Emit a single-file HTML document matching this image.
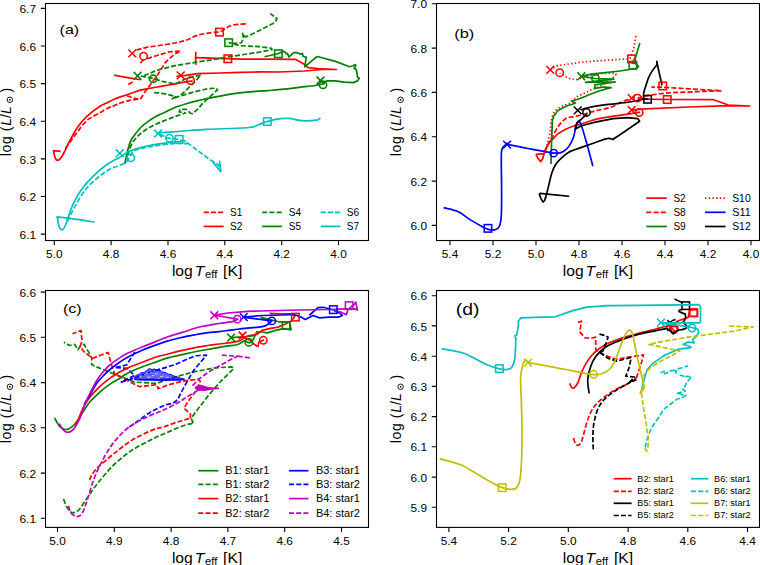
<!DOCTYPE html>
<html><head><meta charset="utf-8"><title>HR diagrams</title>
<style>html,body{margin:0;padding:0;background:#fff;width:760px;height:565px;overflow:hidden}svg{display:block}text{fill:#000}</style>
</head><body>
<svg width="760" height="565" viewBox="0 0 760 565" font-family='"Liberation Sans", sans-serif'>
<rect x="45.5" y="3.5" width="323" height="237" fill="none" stroke="#000" stroke-width="1.1"/>
<path d="M54.3,240.5 v4.7 M111.1,240.5 v4.7 M168,240.5 v4.7 M224.8,240.5 v4.7 M281.7,240.5 v4.7 M338.5,240.5 v4.7 M45.5,234.1 h-4.7 M45.5,196.5 h-4.7 M45.5,158.9 h-4.7 M45.5,121.2 h-4.7 M45.5,83.6 h-4.7 M45.5,46 h-4.7 M45.5,8.4 h-4.7 " stroke="#000" stroke-width="1.1"/>
<text x="54.3" y="257.6" font-size="10.9" text-anchor="middle" textLength="16.5" lengthAdjust="spacingAndGlyphs">5.0</text>
<text x="111.1" y="257.6" font-size="10.9" text-anchor="middle" textLength="16.5" lengthAdjust="spacingAndGlyphs">4.8</text>
<text x="168" y="257.6" font-size="10.9" text-anchor="middle" textLength="16.5" lengthAdjust="spacingAndGlyphs">4.6</text>
<text x="224.8" y="257.6" font-size="10.9" text-anchor="middle" textLength="16.5" lengthAdjust="spacingAndGlyphs">4.4</text>
<text x="281.7" y="257.6" font-size="10.9" text-anchor="middle" textLength="16.5" lengthAdjust="spacingAndGlyphs">4.2</text>
<text x="338.5" y="257.6" font-size="10.9" text-anchor="middle" textLength="16.5" lengthAdjust="spacingAndGlyphs">4.0</text>
<text x="36" y="238.7" font-size="10.9" text-anchor="end" textLength="16.5" lengthAdjust="spacingAndGlyphs">6.1</text>
<text x="36" y="201.1" font-size="10.9" text-anchor="end" textLength="16.5" lengthAdjust="spacingAndGlyphs">6.2</text>
<text x="36" y="163.5" font-size="10.9" text-anchor="end" textLength="16.5" lengthAdjust="spacingAndGlyphs">6.3</text>
<text x="36" y="125.8" font-size="10.9" text-anchor="end" textLength="16.5" lengthAdjust="spacingAndGlyphs">6.4</text>
<text x="36" y="88.2" font-size="10.9" text-anchor="end" textLength="16.5" lengthAdjust="spacingAndGlyphs">6.5</text>
<text x="36" y="50.6" font-size="10.9" text-anchor="end" textLength="16.5" lengthAdjust="spacingAndGlyphs">6.6</text>
<text x="36" y="13" font-size="10.9" text-anchor="end" textLength="16.5" lengthAdjust="spacingAndGlyphs">6.7</text>
<rect x="436.5" y="3.5" width="323" height="237" fill="none" stroke="#000" stroke-width="1.1"/>
<path d="M450,240.5 v4.7 M493,240.5 v4.7 M536,240.5 v4.7 M579,240.5 v4.7 M622,240.5 v4.7 M665,240.5 v4.7 M708,240.5 v4.7 M751,240.5 v4.7 M436.5,225.4 h-4.7 M436.5,181.1 h-4.7 M436.5,136.7 h-4.7 M436.5,92.4 h-4.7 M436.5,48.1 h-4.7 M436.5,3.8 h-4.7 " stroke="#000" stroke-width="1.1"/>
<text x="450" y="257.6" font-size="10.9" text-anchor="middle" textLength="16.5" lengthAdjust="spacingAndGlyphs">5.4</text>
<text x="493" y="257.6" font-size="10.9" text-anchor="middle" textLength="16.5" lengthAdjust="spacingAndGlyphs">5.2</text>
<text x="536" y="257.6" font-size="10.9" text-anchor="middle" textLength="16.5" lengthAdjust="spacingAndGlyphs">5.0</text>
<text x="579" y="257.6" font-size="10.9" text-anchor="middle" textLength="16.5" lengthAdjust="spacingAndGlyphs">4.8</text>
<text x="622" y="257.6" font-size="10.9" text-anchor="middle" textLength="16.5" lengthAdjust="spacingAndGlyphs">4.6</text>
<text x="665" y="257.6" font-size="10.9" text-anchor="middle" textLength="16.5" lengthAdjust="spacingAndGlyphs">4.4</text>
<text x="708" y="257.6" font-size="10.9" text-anchor="middle" textLength="16.5" lengthAdjust="spacingAndGlyphs">4.2</text>
<text x="751" y="257.6" font-size="10.9" text-anchor="middle" textLength="16.5" lengthAdjust="spacingAndGlyphs">4.0</text>
<text x="427" y="230" font-size="10.9" text-anchor="end" textLength="16.5" lengthAdjust="spacingAndGlyphs">6.0</text>
<text x="427" y="185.7" font-size="10.9" text-anchor="end" textLength="16.5" lengthAdjust="spacingAndGlyphs">6.2</text>
<text x="427" y="141.3" font-size="10.9" text-anchor="end" textLength="16.5" lengthAdjust="spacingAndGlyphs">6.4</text>
<text x="427" y="97" font-size="10.9" text-anchor="end" textLength="16.5" lengthAdjust="spacingAndGlyphs">6.6</text>
<text x="427" y="52.7" font-size="10.9" text-anchor="end" textLength="16.5" lengthAdjust="spacingAndGlyphs">6.8</text>
<text x="427" y="8.4" font-size="10.9" text-anchor="end" textLength="16.5" lengthAdjust="spacingAndGlyphs">7.0</text>
<rect x="45.5" y="290.5" width="323" height="236.9" fill="none" stroke="#000" stroke-width="1.1"/>
<path d="M57.5,527.4 v4.7 M114.3,527.4 v4.7 M171.1,527.4 v4.7 M227.9,527.4 v4.7 M284.7,527.4 v4.7 M341.5,527.4 v4.7 M45.5,518.3 h-4.7 M45.5,473.1 h-4.7 M45.5,427.8 h-4.7 M45.5,382.6 h-4.7 M45.5,337.3 h-4.7 M45.5,292.1 h-4.7 " stroke="#000" stroke-width="1.1"/>
<text x="57.5" y="544.5" font-size="10.9" text-anchor="middle" textLength="16.5" lengthAdjust="spacingAndGlyphs">5.0</text>
<text x="114.3" y="544.5" font-size="10.9" text-anchor="middle" textLength="16.5" lengthAdjust="spacingAndGlyphs">4.9</text>
<text x="171.1" y="544.5" font-size="10.9" text-anchor="middle" textLength="16.5" lengthAdjust="spacingAndGlyphs">4.8</text>
<text x="227.9" y="544.5" font-size="10.9" text-anchor="middle" textLength="16.5" lengthAdjust="spacingAndGlyphs">4.7</text>
<text x="284.7" y="544.5" font-size="10.9" text-anchor="middle" textLength="16.5" lengthAdjust="spacingAndGlyphs">4.6</text>
<text x="341.5" y="544.5" font-size="10.9" text-anchor="middle" textLength="16.5" lengthAdjust="spacingAndGlyphs">4.5</text>
<text x="36" y="522.9" font-size="10.9" text-anchor="end" textLength="16.5" lengthAdjust="spacingAndGlyphs">6.1</text>
<text x="36" y="477.7" font-size="10.9" text-anchor="end" textLength="16.5" lengthAdjust="spacingAndGlyphs">6.2</text>
<text x="36" y="432.4" font-size="10.9" text-anchor="end" textLength="16.5" lengthAdjust="spacingAndGlyphs">6.3</text>
<text x="36" y="387.2" font-size="10.9" text-anchor="end" textLength="16.5" lengthAdjust="spacingAndGlyphs">6.4</text>
<text x="36" y="341.9" font-size="10.9" text-anchor="end" textLength="16.5" lengthAdjust="spacingAndGlyphs">6.5</text>
<text x="36" y="296.7" font-size="10.9" text-anchor="end" textLength="16.5" lengthAdjust="spacingAndGlyphs">6.6</text>
<rect x="436.5" y="290.5" width="323" height="236.9" fill="none" stroke="#000" stroke-width="1.1"/>
<path d="M448.9,527.4 v4.7 M508.6,527.4 v4.7 M568.3,527.4 v4.7 M628.1,527.4 v4.7 M687.8,527.4 v4.7 M747.5,527.4 v4.7 M436.5,507.3 h-4.7 M436.5,477.1 h-4.7 M436.5,446.8 h-4.7 M436.5,416.6 h-4.7 M436.5,386.4 h-4.7 M436.5,356.2 h-4.7 M436.5,325.9 h-4.7 M436.5,295.7 h-4.7 " stroke="#000" stroke-width="1.1"/>
<text x="448.9" y="544.5" font-size="10.9" text-anchor="middle" textLength="16.5" lengthAdjust="spacingAndGlyphs">5.4</text>
<text x="508.6" y="544.5" font-size="10.9" text-anchor="middle" textLength="16.5" lengthAdjust="spacingAndGlyphs">5.2</text>
<text x="568.3" y="544.5" font-size="10.9" text-anchor="middle" textLength="16.5" lengthAdjust="spacingAndGlyphs">5.0</text>
<text x="628.1" y="544.5" font-size="10.9" text-anchor="middle" textLength="16.5" lengthAdjust="spacingAndGlyphs">4.8</text>
<text x="687.8" y="544.5" font-size="10.9" text-anchor="middle" textLength="16.5" lengthAdjust="spacingAndGlyphs">4.6</text>
<text x="747.5" y="544.5" font-size="10.9" text-anchor="middle" textLength="16.5" lengthAdjust="spacingAndGlyphs">4.4</text>
<text x="427" y="511.9" font-size="10.9" text-anchor="end" textLength="16.5" lengthAdjust="spacingAndGlyphs">5.9</text>
<text x="427" y="481.7" font-size="10.9" text-anchor="end" textLength="16.5" lengthAdjust="spacingAndGlyphs">6.0</text>
<text x="427" y="451.4" font-size="10.9" text-anchor="end" textLength="16.5" lengthAdjust="spacingAndGlyphs">6.1</text>
<text x="427" y="421.2" font-size="10.9" text-anchor="end" textLength="16.5" lengthAdjust="spacingAndGlyphs">6.2</text>
<text x="427" y="391" font-size="10.9" text-anchor="end" textLength="16.5" lengthAdjust="spacingAndGlyphs">6.3</text>
<text x="427" y="360.8" font-size="10.9" text-anchor="end" textLength="16.5" lengthAdjust="spacingAndGlyphs">6.4</text>
<text x="427" y="330.5" font-size="10.9" text-anchor="end" textLength="16.5" lengthAdjust="spacingAndGlyphs">6.5</text>
<text x="427" y="300.3" font-size="10.9" text-anchor="end" textLength="16.5" lengthAdjust="spacingAndGlyphs">6.6</text>
<text x="171.9" y="275.7" font-size="14" textLength="70.4" lengthAdjust="spacingAndGlyphs">log <tspan font-style="italic" dx="-2.2">T</tspan><tspan font-size="10" dy="2.6" dx="0.7">eff</tspan><tspan dy="-2.6" dx="1.3"> [K]</tspan></text>
<text x="562.7" y="275.7" font-size="14" textLength="70.4" lengthAdjust="spacingAndGlyphs">log <tspan font-style="italic" dx="-2.2">T</tspan><tspan font-size="10" dy="2.6" dx="0.7">eff</tspan><tspan dy="-2.6" dx="1.3"> [K]</tspan></text>
<text x="171.9" y="562.7" font-size="14" textLength="70.4" lengthAdjust="spacingAndGlyphs">log <tspan font-style="italic" dx="-2.2">T</tspan><tspan font-size="10" dy="2.6" dx="0.7">eff</tspan><tspan dy="-2.6" dx="1.3"> [K]</tspan></text>
<text x="562.7" y="562.7" font-size="14" textLength="70.4" lengthAdjust="spacingAndGlyphs">log <tspan font-style="italic" dx="-2.2">T</tspan><tspan font-size="10" dy="2.6" dx="0.7">eff</tspan><tspan dy="-2.6" dx="1.3"> [K]</tspan></text>
<g transform="translate(10.5,0) rotate(-90)"><text x="-156.2" y="0" font-size="14">l<tspan dx="0.5">o</tspan><tspan dx="0.8">g</tspan><tspan dx="1.1"> (</tspan><tspan dx="0.8" font-style="italic">L</tspan>/<tspan font-style="italic">L</tspan></text><text x="-92.6" y="0" font-size="14">)</text></g><circle cx="9.9" cy="99.8" r="2.75" fill="none" stroke="#000" stroke-width="0.9"/><circle cx="9.9" cy="99.8" r="0.85" fill="#000"/>
<g transform="translate(401.2,0) rotate(-90)"><text x="-156.2" y="0" font-size="14">l<tspan dx="0.5">o</tspan><tspan dx="0.8">g</tspan><tspan dx="1.1"> (</tspan><tspan dx="0.8" font-style="italic">L</tspan>/<tspan font-style="italic">L</tspan></text><text x="-92.6" y="0" font-size="14">)</text></g><circle cx="400.6" cy="99.8" r="2.75" fill="none" stroke="#000" stroke-width="0.9"/><circle cx="400.6" cy="99.8" r="0.85" fill="#000"/>
<g transform="translate(10.5,0) rotate(-90)"><text x="-443.2" y="0" font-size="14">l<tspan dx="0.5">o</tspan><tspan dx="0.8">g</tspan><tspan dx="1.1"> (</tspan><tspan dx="0.8" font-style="italic">L</tspan>/<tspan font-style="italic">L</tspan></text><text x="-379.6" y="0" font-size="14">)</text></g><circle cx="9.9" cy="386.8" r="2.75" fill="none" stroke="#000" stroke-width="0.9"/><circle cx="9.9" cy="386.8" r="0.85" fill="#000"/>
<g transform="translate(401.2,0) rotate(-90)"><text x="-443.2" y="0" font-size="14">l<tspan dx="0.5">o</tspan><tspan dx="0.8">g</tspan><tspan dx="1.1"> (</tspan><tspan dx="0.8" font-style="italic">L</tspan>/<tspan font-style="italic">L</tspan></text><text x="-379.6" y="0" font-size="14">)</text></g><circle cx="400.6" cy="386.8" r="2.75" fill="none" stroke="#000" stroke-width="0.9"/><circle cx="400.6" cy="386.8" r="0.85" fill="#000"/>
<text x="59.6" y="34" font-size="13.5" textLength="19.6" lengthAdjust="spacingAndGlyphs">(a)</text>
<path d="M59.9,151.4 C59,151.3 55.3,150.5 54.3,150.6 C53.3,150.7 53.7,151 53.7,151.9 C53.8,152.8 54.2,154.6 54.6,155.9 C55,157.2 55.6,158.9 56.2,159.6 C56.8,160.3 57.4,160.4 58.1,160.2 C58.8,160 59.7,159.3 60.5,158.4 C61.3,157.5 62.2,156.1 63,154.7 C63.8,153.2 64.6,151.7 65.5,149.7 C66.4,147.7 67.6,145 68.6,142.9 C69.6,140.8 70.2,140 71.7,137.3 C73.2,134.6 75.2,130.4 77.7,126.9 C80.2,123.4 83.2,119.7 86.9,116.3 C90.6,112.9 96.6,108.5 100,106.3 C103.4,104 104.7,104 107.1,102.8 C109.5,101.6 111.8,100.2 114.2,99.2 C116.6,98.2 118.8,97.4 121.2,96.6 C123.6,95.8 125.9,95.1 128.3,94.3 C130.7,93.5 133,92.6 135.4,91.8 C137.8,91 140.4,90.2 142.5,89.7 C144.6,89.2 144.7,89.2 148,88.6 C151.3,88 157.5,86.9 162.2,86.1 C166.9,85.3 172.3,84.3 176.3,83.6 C180.3,82.9 183.6,82.2 186.2,81.8 C188.8,81.4 190.9,81.2 191.9,81.1" stroke="#ff0000" stroke-width="1.7" fill="none" stroke-linejoin="round" stroke-linecap="square"/>
<path d="M177.2,76.3 L186,75.4 L197.3,73.6 L220,73 L240,72.4 L260,71.9 L278.9,72 L304.2,71 L321.7,69.5 L336.3,69.5 L317.8,68.5 L308.1,67.7 L304.2,64.2 L295.4,59.3 L260,59.2 L240,59.1 L227.7,58.6 L195.7,57.6" stroke="#ff0000" stroke-width="1.7" fill="none" stroke-linejoin="round" stroke-linecap="square"/>
<path d="M195.7,52.6 L195.7,63.9" stroke="#ff0000" stroke-width="1.7" fill="none" stroke-linejoin="round" stroke-linecap="square"/>
<path d="M115,75.3 L129,77.8 L140,79.6" stroke="#ff0000" stroke-width="1.7" fill="none" stroke-linejoin="round" stroke-linecap="square"/>
<path d="M65.5,148.5 C66,147.8 67.6,145.5 68.6,144.1 C69.6,142.7 70.7,141.2 71.7,139.8 C72.7,138.4 73.7,137 74.8,135.4 C75.9,133.8 77.1,132.3 78.5,130.5 C79.9,128.7 81.1,126.5 83,124.5 C84.9,122.5 86.9,120.4 89.7,118.4 C92.5,116.4 97.1,114.4 100,112.7 C102.9,111 104.7,109.7 107.1,108.5 C109.5,107.3 111.8,106.5 114.2,105.6 C116.6,104.6 118.6,103.7 121.2,102.8 C123.8,101.9 127,100.9 129.7,100.3 C132.4,99.7 135.7,99.4 137.5,99.2 C139.3,99 139.9,99.2 140.4,99.2" stroke="#ff0000" stroke-width="1.7" fill="none" stroke-linejoin="round" stroke-linecap="butt" stroke-dasharray="5.1 2.1"/>
<path d="M140.4,99.2 L143.9,93.6 L146.7,89.3 L150,85.1 L155.1,78.3 L160,71.2 L165.7,62 L175.2,53.7 L180.8,50.9 L169.7,51.8 L156.8,55.5 L145.8,59.2" stroke="#ff0000" stroke-width="1.7" fill="none" stroke-linejoin="round" stroke-linecap="butt" stroke-dasharray="5.1 2.1"/>
<path d="M136.6,50 C138.4,49.5 142.7,48.1 147.6,47.2 C152.5,46.3 159.8,45.6 166,44.5 C172.2,43.4 179.3,42.3 184.5,40.8 C189.7,39.3 192.7,36.7 197.3,35.3 C201.9,33.9 208.3,33.1 212,32.5 C215.7,31.9 217.2,32.5 219.4,31.9 C221.6,31.3 223.2,29.8 225,28.8 C226.8,27.8 228.1,26.5 230.5,25.7 C232.9,24.9 236.8,24.5 239.7,24.2 C242.6,23.9 246.6,23.9 248,23.8" stroke="#ff0000" stroke-width="1.7" fill="none" stroke-linejoin="round" stroke-linecap="butt" stroke-dasharray="5.1 2.1"/>
<path d="M143.6,59.5 L140.5,63" stroke="#ff0000" stroke-width="1.7" fill="none" stroke-linejoin="round" stroke-linecap="butt" stroke-dasharray="5.1 2.1"/>
<path d="M126.9,95.7 L131.9,97.5 L137.5,99.2" stroke="#ff0000" stroke-width="1.7" fill="none" stroke-linejoin="round" stroke-linecap="butt" stroke-dasharray="5.1 2.1"/>
<path d="M128.3,84.4 L132.6,81.9" stroke="#ff0000" stroke-width="1.7" fill="none" stroke-linejoin="round" stroke-linecap="butt" stroke-dasharray="5.1 2.1"/>
<path d="M127.7,155.3 C128,154.5 128.5,152.4 129.2,150.5 C129.9,148.6 130.6,146 132,143.6 C133.4,141.2 135.6,138.4 137.7,136.2 C139.8,134 142.4,132.2 144.8,130.5 C147.2,128.8 149.4,127.5 151.9,126.2 C154.4,124.9 156.6,123.8 160,122.4 C163.4,121 168.4,119 172.2,117.6 C175.9,116.2 180.8,114.6 182.5,114" stroke="#008000" stroke-width="1.7" fill="none" stroke-linejoin="round" stroke-linecap="butt" stroke-dasharray="5.1 2.1"/>
<path d="M182.5,114 L185.6,113 L179.2,111.9 L180,109.5 L186.3,109.4 L188,110.5 L189.9,113 L192.7,113.7 L197.7,109.1 L203.3,102.7 L207.6,98.8 L211.9,94.9 L217.5,89.8 L215.9,88.2 L208,88.6 L193.4,92.1 L179.2,96.3 L172.2,98.8 L175.7,96.7 L172.2,95.6 L165.1,93.9 L158,92.8 L153.7,92.5" stroke="#008000" stroke-width="1.7" fill="none" stroke-linejoin="round" stroke-linecap="butt" stroke-dasharray="5.1 2.1"/>
<path d="M180.8,95 L193.7,83.1 L201,74.9 L186.3,78.5 L175.2,84.1 L162.4,81.3 L153.1,78.5 L143,76.5 L137.5,75.8" stroke="#008000" stroke-width="1.7" fill="none" stroke-linejoin="round" stroke-linecap="butt" stroke-dasharray="5.1 2.1"/>
<path d="M143.9,75.8 L156.8,70.2 L175.2,65.6 L197.3,62 L215.8,59.2 L230.5,56.4 L240,55.1 L259.5,52.1 L272.1,49.6 L271.1,48.2 L259.5,46.7 L240,45.7 L232.3,43.5 L228.7,42.6" stroke="#008000" stroke-width="1.7" fill="none" stroke-linejoin="round" stroke-linecap="butt" stroke-dasharray="5.1 2.1"/>
<path d="M232.3,43.5 L241.5,42.6 L243.5,38 L242.7,33.3 L245.5,37 L249,35.5 L259.5,30.4 L275,22.4 L277,18.5 L270.2,13.6" stroke="#008000" stroke-width="1.7" fill="none" stroke-linejoin="round" stroke-linecap="butt" stroke-dasharray="5.1 2.1"/>
<path d="M125,163 C125.2,162 125.8,158.9 126.2,157 C126.6,155.1 126.9,153.6 127.4,151.6 C127.9,149.6 128.6,146.9 129.2,145 C129.8,143.1 130.4,141.6 131.2,140 C132,138.4 132.5,137.7 134.2,135.5 C135.9,133.3 138.8,129.4 141.2,127 C143.5,124.6 145.9,123 148.3,121.3 C150.7,119.6 152.6,118.2 155.4,116.7 C158.2,115.2 161.9,113.8 165.1,112.3 C168.2,110.8 170.8,109.1 174.3,107.7 C177.8,106.3 182.5,104.9 186.3,103.8 C190.1,102.7 193.4,101.8 197,100.9 C200.6,100 203.5,99.3 208,98.4 C212.5,97.5 218.5,96.2 223.8,95.3 C229.1,94.4 234.3,93.6 239.6,92.9 C244.9,92.2 250.7,91.7 255.4,91.3 C260.1,90.9 263.3,90.9 268,90.6 C272.7,90.2 278.5,89.8 283.8,89.2 C289.1,88.7 294.3,87.9 299.6,87.3 C304.9,86.7 312.4,86 315.4,85.5 C318.4,85 317.4,84.8 317.8,84.6" stroke="#008000" stroke-width="1.7" fill="none" stroke-linejoin="round" stroke-linecap="square"/>
<path d="M317.8,84.6 L321.5,84.3 L323.5,83.5 L326.6,80.9 L335.4,80.9 L344.3,82.2 L353.1,82.6 L357.6,80.9 L359.3,78.2 L357.6,77.3 L356.7,71.6 L355.8,68.9 L354,68.5 L355.8,65.8 L355.4,64.5 L353.1,65.8 L349.6,66.7 L335.4,61.4 L317.3,56.5 L315,58.2 L304.7,66.8 L305.5,62.1 L306.3,57.4 L303.1,56.2 L302.4,53.4 L300.8,54.2 L296.8,52.6 L293.7,52.6 L288.9,57 L287.4,53.4 L286.2,53.8 L285,51.8 L283,51.4 L278.5,53.5 L265.3,56.6" stroke="#008000" stroke-width="1.7" fill="none" stroke-linejoin="round" stroke-linecap="square"/>
<path d="M93.7,221.8 C88,221 65.5,217.8 59.5,217.2 C53.5,216.6 58.3,217.4 58,218 C57.7,218.6 57.6,219.6 57.8,221 C58,222.4 58.5,225.1 59,226.5 C59.5,227.9 60.3,229 61,229.4 C61.7,229.8 62.6,229.7 63.3,229 C64,228.3 64.6,227.1 65.3,225.5 C66,223.9 67.1,220.5 67.4,219.5" stroke="#00bfbf" stroke-width="1.7" fill="none" stroke-linejoin="round" stroke-linecap="square"/>
<path d="M67.4,219.5 C68.4,216.9 70.9,208.8 73.2,203.9 C75.5,199 77.8,194.8 81,190.3 C84.2,185.8 88.5,180.9 92.7,176.7 C96.9,172.5 101.8,168.2 106.3,165 C110.8,161.8 115.7,159.6 119.5,157.4 C123.3,155.2 125.2,153.3 128.9,151.6 C132.6,149.9 136.8,148.6 141.6,147.4 C146.3,146.2 152.1,145.1 157.4,144.2 C162.7,143.3 168.6,142.6 173.2,142.1 C177.8,141.6 183,141.2 185,141" stroke="#00bfbf" stroke-width="1.7" fill="none" stroke-linejoin="round" stroke-linecap="square"/>
<path d="M157.7,132.8 C159.8,132.7 164.6,132.5 170,132.1 C175.4,131.7 183.9,131 190,130.5 C196.1,130 196.9,129.8 206.8,129.3 C216.7,128.8 240.6,128.3 249.2,127.5 C257.8,126.7 255.3,125.7 258.4,124.7 C261.5,123.7 263.9,122.4 267.6,121.4 C271.3,120.4 276.9,119.2 280.5,118.7 C284.1,118.2 286,118.1 289.5,118.4 C293,118.7 296.8,120.4 301.3,120.7 C305.8,121 313.6,120.5 316.7,120.1 C319.8,119.7 319.2,118.7 319.7,118.4" stroke="#00bfbf" stroke-width="1.7" fill="none" stroke-linejoin="round" stroke-linecap="square"/>
<path d="M67.4,221.4 C68.7,218.8 72.3,211.1 75.2,205.9 C78.1,200.7 81.3,194.9 84.9,190.3 C88.5,185.8 92.4,182.2 96.6,178.6 C100.8,175 105.5,171.5 110.2,168.9 C114.9,166.3 121.3,165.3 124.7,163.2 C128.1,161 128.8,158.2 130.5,156 C132.2,153.8 131.4,151.8 135,150.2 C138.6,148.6 145.7,147.4 152.1,146.3 C158.5,145.2 167.2,144.1 173.2,143.7 C179.2,143.3 185.4,143.7 187.9,143.7" stroke="#00bfbf" stroke-width="1.7" fill="none" stroke-linejoin="round" stroke-linecap="butt" stroke-dasharray="5.1 2.1"/>
<path d="M160,134 L166.8,137.9 L179,139.5 L186.6,142.2 L197.6,150.5 L208.7,158.8 L218.8,165.2 L220.8,171.7" stroke="#00bfbf" stroke-width="1.7" fill="none" stroke-linejoin="round" stroke-linecap="butt" stroke-dasharray="5.1 2.1"/>
<path d="M213.3,162.5 L220.8,171.7 L219.7,161.6" stroke="#00bfbf" stroke-width="1.7" fill="none" stroke-linejoin="round" stroke-linecap="square"/>
<path d="M128.4,49.5 L136.2,57.3 M128.4,57.3 L136.2,49.5" stroke="#ff0000" stroke-width="1.55" fill="none"/>
<circle cx="143.6" cy="56.2" r="3.7" stroke="#ff0000" stroke-width="1.55" fill="none"/>
<rect x="215.8" y="28.4" width="7.5" height="7.5" stroke="#ff0000" stroke-width="1.55" fill="none"/>
<path d="M176.8,71.5 L184.6,79.3 M176.8,79.3 L184.6,71.5" stroke="#ff0000" stroke-width="1.55" fill="none"/>
<circle cx="190.6" cy="80.6" r="3.7" stroke="#ff0000" stroke-width="1.55" fill="none"/>
<rect x="224.1" y="55" width="7.5" height="7.5" stroke="#ff0000" stroke-width="1.55" fill="none"/>
<path d="M133.6,71.9 L141.4,79.7 M133.6,79.7 L141.4,71.9" stroke="#008000" stroke-width="1.55" fill="none"/>
<circle cx="153.2" cy="78.8" r="3.7" stroke="#008000" stroke-width="1.55" fill="none"/>
<rect x="224.9" y="38.9" width="7.5" height="7.5" stroke="#008000" stroke-width="1.55" fill="none"/>
<path d="M316.6,76.6 L324.4,84.4 M316.6,84.4 L324.4,76.6" stroke="#008000" stroke-width="1.55" fill="none"/>
<circle cx="323" cy="84.8" r="3.7" stroke="#008000" stroke-width="1.55" fill="none"/>
<rect x="274.6" y="50" width="7.5" height="7.5" stroke="#008000" stroke-width="1.55" fill="none"/>
<path d="M115.8,149.4 L123.6,157.2 M115.8,157.2 L123.6,149.4" stroke="#00bfbf" stroke-width="1.55" fill="none"/>
<circle cx="130.8" cy="157.8" r="3.7" stroke="#00bfbf" stroke-width="1.55" fill="none"/>
<path d="M154.1,129.6 L161.9,137.4 M154.1,137.4 L161.9,129.6" stroke="#00bfbf" stroke-width="1.55" fill="none"/>
<circle cx="169.5" cy="138.2" r="3.7" stroke="#00bfbf" stroke-width="1.55" fill="none"/>
<rect x="175.4" y="135.6" width="7.5" height="7.5" stroke="#00bfbf" stroke-width="1.55" fill="none"/>
<rect x="263.6" y="117.8" width="7.5" height="7.5" stroke="#00bfbf" stroke-width="1.55" fill="none"/>
<path d="M203.7,212.3 H223.6" stroke="#ff0000" stroke-width="1.7" stroke-dasharray="5.1 2.1"/>
<text x="230" y="215.8" font-size="10.192000000000002" textLength="12.3" lengthAdjust="spacingAndGlyphs">S1</text>
<path d="M203.7,226.4 H223.6" stroke="#ff0000" stroke-width="1.7"/>
<text x="230" y="229.9" font-size="10.192000000000002" textLength="12.3" lengthAdjust="spacingAndGlyphs">S2</text>
<path d="M262.2,212.3 H281.9" stroke="#008000" stroke-width="1.7" stroke-dasharray="5.1 2.1"/>
<text x="288.8" y="215.8" font-size="10.192000000000002" textLength="12.3" lengthAdjust="spacingAndGlyphs">S4</text>
<path d="M262.2,226.4 H281.9" stroke="#008000" stroke-width="1.7"/>
<text x="288.8" y="229.9" font-size="10.192000000000002" textLength="12.3" lengthAdjust="spacingAndGlyphs">S5</text>
<path d="M320.7,212.3 H340.4" stroke="#00bfbf" stroke-width="1.7" stroke-dasharray="5.1 2.1"/>
<text x="346.8" y="215.8" font-size="10.192000000000002" textLength="12.3" lengthAdjust="spacingAndGlyphs">S6</text>
<path d="M320.7,226.4 H340.4" stroke="#00bfbf" stroke-width="1.7"/>
<text x="346.8" y="229.9" font-size="10.192000000000002" textLength="12.3" lengthAdjust="spacingAndGlyphs">S7</text>
<text x="454.2" y="37.9" font-size="13.5" textLength="20" lengthAdjust="spacingAndGlyphs">(b)</text>
<path d="M543.9,153.7 L536.5,154.4 L536.3,155.6 L538.4,158.7 L540.7,161.7 L542.5,159 L544.7,152.1" stroke="#ff0000" stroke-width="1.7" fill="none" stroke-linejoin="round" stroke-linecap="square"/>
<path d="M544.7,152.1 C545.1,151.2 546.2,148.3 547.1,146.5 C548,144.7 549,142.8 550,141.5 C551,140.2 551.9,140 553.2,138.7 C554.5,137.4 555.8,135.5 557.9,133.9 C560,132.3 563.2,130.5 565.8,129.2 C568.4,127.9 571.1,126.9 573.7,126 C576.3,125.1 579,124.5 581.6,123.7 C584.2,122.9 586.9,122.1 589.5,121.3 C592.1,120.5 594,119.7 597.4,118.9 C600.8,118.1 604.6,117.4 610,116.6 C615.4,115.8 624.8,114.6 629.7,113.9 C634.6,113.2 637.6,112.6 639.2,112.3" stroke="#ff0000" stroke-width="1.7" fill="none" stroke-linejoin="round" stroke-linecap="square"/>
<path d="M631.7,110 L645.5,108.9 L689,107 L728.4,105.6 L749.7,106 L728.4,105 L713.6,99.7 L669.2,99.5 L639.6,99.1" stroke="#ff0000" stroke-width="1.7" fill="none" stroke-linejoin="round" stroke-linecap="square"/>
<path d="M544.5,152 C544.8,151.2 545.5,149 546.3,147.3 C547.1,145.6 548.5,143.7 549.5,142 C550.5,140.3 551,139.6 552.4,137.1 C553.8,134.6 555.7,129.9 557.9,126.8 C560.1,123.7 563.2,120.2 565.8,118.5 C568.4,116.8 571.1,117.2 573.7,116.6 C576.3,116 579,115.7 581.6,115 C584.2,114.3 586.9,113.4 589.5,112.6 C592.1,111.8 594,111.1 597.4,110.3 C600.8,109.5 605.9,108.9 610,107.5 C614.1,106.1 618.2,103.6 621.8,102 C625.4,100.4 630.1,98.8 631.7,98.1" stroke="#ff0000" stroke-width="1.7" fill="none" stroke-linejoin="round" stroke-linecap="butt" stroke-dasharray="5.1 2.1"/>
<path d="M637.6,98.1 L649.5,95.1 L669.2,92.8 L698.8,91.6 L721.5,90.8 L689,88.8 L662.3,87.2 L651.4,87.2" stroke="#ff0000" stroke-width="1.7" fill="none" stroke-linejoin="round" stroke-linecap="butt" stroke-dasharray="5.1 2.1"/>
<path d="M545,153 L547.1,144.9 L549.5,135.4 L550.6,128 L551.5,121 L552.8,115 L555,110.7 L558.3,108.3 L561.5,106.4 L564.8,105 L568.4,104 L571.7,102.8 L573.3,101.4 L575,98.7 L577.4,96.5 L581,94.8 L584.3,93.4 L591.2,89.8 L600.5,86.2 L609,80.6 L613.9,77 L616,74.2 L612.5,73.1 L601.9,73.5 L591.2,75.3 L584.2,76.7 L577.1,79.5 L571.4,79.2 L565,76.5 L559.7,73.1" stroke="#ff0000" stroke-width="1.7" fill="none" stroke-linejoin="round" stroke-linecap="butt" stroke-dasharray="1.4 2.3"/>
<path d="M550.2,69.9 L557.6,65.6 L583.1,62 L610.7,59.9 L629.8,58.9 L634,47.6 L636.2,33.8" stroke="#ff0000" stroke-width="1.7" fill="none" stroke-linejoin="round" stroke-linecap="butt" stroke-dasharray="1.4 2.3"/>
<path d="M551,163.2 L551.6,140 L552.4,120.5 L553.9,115.8 L555.8,113.6 L557.4,111.1 L561.1,108.7 L567.2,105.8 L572.1,104.2 L575.4,103 L573,101.5 L571.3,100.8 L574,100.3 L577.8,99.3 L585,96.5 L589.1,94.7 L598.3,91.2 L605.4,89.1 L611.1,87.7 L604,87 L594.8,88.4 L594.8,84.8 L615.3,82 L585.6,82.4 L613.9,79.2 L595,78.5 L581.3,76.3" stroke="#008000" stroke-width="1.7" fill="none" stroke-linejoin="round" stroke-linecap="square"/>
<path d="M581.3,76.3 L591.2,74.2 L620,71 L635.7,68.5 L638.6,66.5 L635.7,63.6 L632,63 L634,60 L636,56 L639.6,43.8" stroke="#008000" stroke-width="1.7" fill="none" stroke-linejoin="round" stroke-linecap="square"/>
<path d="M444.4,207.9 C446.7,208.6 454.1,209.9 458.4,211.8 C462.7,213.8 465.9,217 470.1,219.6 C474.3,222.2 480.7,225.8 483.7,227.4 C486.7,229 486.1,228.9 488,229.3 C489.9,229.7 493.5,230.2 495.4,229.7 C497.3,229.2 498.3,228.7 499.3,226.4 C500.3,224.1 500.9,222 501.3,215.7 C501.7,209.4 501.6,197.8 501.6,188.4 C501.6,179 501.2,165.8 501.3,159.2 C501.4,152.5 501.2,151.1 502.2,148.5 C503.2,145.9 506.3,144.4 507.1,143.6" stroke="#0000ff" stroke-width="1.7" fill="none" stroke-linejoin="round" stroke-linecap="square"/>
<path d="M507.1,143.6 C507.8,143.9 507.5,144.4 511,145.2 C514.5,146 522.5,147.5 528,148.5 C533.5,149.5 539.9,150.6 543.9,151.3 C547.9,152 549.2,152.6 551.9,152.9 C554.6,153.2 557.8,153.3 559.9,152.9 C562,152.5 563.1,151.7 564.7,150.5 C566.3,149.3 568,147.7 569.4,145.6 C570.8,143.5 572.2,140.9 573.3,137.8 C574.4,134.7 575.2,129.4 575.9,126.8 C576.6,124.2 577,122.7 577.7,122.1 C578.5,121.5 578.9,119.6 580.4,123 C581.9,126.4 584.5,135.4 586.5,142.5 C588.5,149.6 591.7,161.7 592.7,165.5" stroke="#0000ff" stroke-width="1.7" fill="none" stroke-linejoin="round" stroke-linecap="square"/>
<path d="M568.4,196.2 L540,193.3 L539.4,194.5 L541.2,199.1 L543.1,202 L544.6,200.6 L545.6,197.5" stroke="#000000" stroke-width="1.7" fill="none" stroke-linejoin="round" stroke-linecap="square"/>
<path d="M545.6,197.5 C546,196 547,192.5 548,188.4 C549,184.3 550.6,176.9 551.9,172.8 C553.2,168.7 554.6,166.2 556,164 C557.4,161.8 557.9,161.3 560,159.3 C562.1,157.3 565,154.3 568.8,152.2 C572.6,150.1 578.6,148.5 583,146.9 C587.4,145.3 591.6,143.8 595.4,142.5 C599.2,141.2 603.7,139.6 606,138.9 C608.3,138.2 607.8,138.3 609,138.4 C610.2,138.5 612.4,139.2 613.1,139.3" stroke="#000000" stroke-width="1.7" fill="none" stroke-linejoin="round" stroke-linecap="square"/>
<path d="M613.1,139.3 L625.5,131 L639.6,121.2 L637.9,118.6 L627.3,117.7 L613.1,118.6 L595.4,122.1 L581.2,125.7 L575,129.2 L576.8,123 L583,117.7 L586.5,114.5" stroke="#000000" stroke-width="1.7" fill="none" stroke-linejoin="round" stroke-linecap="square"/>
<path d="M581.2,109.7 C582.1,109.4 582.6,108.8 586.5,108 C590.4,107.2 597.1,105.9 604.3,104.9 C611.5,103.9 623.2,103 629.7,102 C636.2,101 640.5,99.6 643.5,99.1 C646.5,98.6 646.8,99.1 647.5,99.1" stroke="#000000" stroke-width="1.7" fill="none" stroke-linejoin="round" stroke-linecap="square"/>
<path d="M643.5,95.5 C643.6,94.8 643.6,93.3 644,91.6 C644.4,89.9 645.3,87.5 646,85.3 C646.7,83 647.4,80.5 648.4,78.1 C649.4,75.7 650.8,73.2 652.3,70.9 C653.8,68.7 656.3,65.6 657.1,64.6" stroke="#000000" stroke-width="1.7" fill="none" stroke-linejoin="round" stroke-linecap="square"/>
<path d="M657.1,64.6 L656.7,61.4 L657.5,65 L659.5,74.1 L661.9,84.5" stroke="#000000" stroke-width="1.7" fill="none" stroke-linejoin="round" stroke-linecap="square"/>
<rect x="484.2" y="224.6" width="7.5" height="7.5" stroke="#0000ff" stroke-width="1.55" fill="none"/>
<path d="M503.2,140.7 L511,148.5 M503.2,148.5 L511,140.7" stroke="#0000ff" stroke-width="1.55" fill="none"/>
<circle cx="553.7" cy="153.1" r="3.7" stroke="#0000ff" stroke-width="1.55" fill="none"/>
<path d="M573.8,106.5 L581.6,114.3 M573.8,114.3 L581.6,106.5" stroke="#000000" stroke-width="1.55" fill="none"/>
<circle cx="586.5" cy="112.4" r="3.7" stroke="#000000" stroke-width="1.55" fill="none"/>
<rect x="643.8" y="95.5" width="7.5" height="7.5" stroke="#000000" stroke-width="1.55" fill="none"/>
<path d="M627.8,106.1 L635.6,113.9 M627.8,113.9 L635.6,106.1" stroke="#ff0000" stroke-width="1.55" fill="none"/>
<circle cx="639.2" cy="112.5" r="3.7" stroke="#ff0000" stroke-width="1.55" fill="none"/>
<rect x="663.5" y="95.8" width="7.5" height="7.5" stroke="#ff0000" stroke-width="1.55" fill="none"/>
<path d="M627.8,94.2 L635.6,102 M627.8,102 L635.6,94.2" stroke="#ff0000" stroke-width="1.55" fill="none"/>
<circle cx="637.6" cy="98.1" r="3.7" stroke="#ff0000" stroke-width="1.55" fill="none"/>
<rect x="659" y="82.2" width="7.5" height="7.5" stroke="#ff0000" stroke-width="1.55" fill="none"/>
<path d="M546.3,66 L554.1,73.8 M546.3,73.8 L554.1,66" stroke="#ff0000" stroke-width="1.55" fill="none"/>
<circle cx="559.7" cy="72.7" r="3.7" stroke="#ff0000" stroke-width="1.55" fill="none"/>
<rect x="627.8" y="55.1" width="7.5" height="7.5" stroke="#ff0000" stroke-width="1.55" fill="none"/>
<path d="M577.4,72.4 L585.2,80.2 M577.4,80.2 L585.2,72.4" stroke="#008000" stroke-width="1.55" fill="none"/>
<circle cx="595.5" cy="78.3" r="3.7" stroke="#008000" stroke-width="1.55" fill="none"/>
<rect x="629.2" y="61.5" width="7.5" height="7.5" stroke="#008000" stroke-width="1.55" fill="none"/>
<path d="M646.3,198.1 H666.8" stroke="#ff0000" stroke-width="1.7"/>
<text x="673.4" y="201.6" font-size="10.192000000000002" textLength="12.3" lengthAdjust="spacingAndGlyphs">S2</text>
<path d="M646.3,212.3 H666.8" stroke="#ff0000" stroke-width="1.7" stroke-dasharray="5.1 2.1"/>
<text x="673.4" y="215.8" font-size="10.192000000000002" textLength="12.3" lengthAdjust="spacingAndGlyphs">S8</text>
<path d="M646.3,226.5 H666.8" stroke="#008000" stroke-width="1.7"/>
<text x="673.4" y="230" font-size="10.192000000000002" textLength="12.3" lengthAdjust="spacingAndGlyphs">S9</text>
<path d="M705,198.1 H725.6" stroke="#ff0000" stroke-width="1.7" stroke-dasharray="1.4 2.3"/>
<text x="732.2" y="201.6" font-size="10.192000000000002" textLength="18.5" lengthAdjust="spacingAndGlyphs">S10</text>
<path d="M705,212.3 H725.6" stroke="#0000ff" stroke-width="1.7"/>
<text x="732.2" y="215.8" font-size="10.192000000000002" textLength="18.5" lengthAdjust="spacingAndGlyphs">S11</text>
<path d="M705,226.5 H725.6" stroke="#000000" stroke-width="1.7"/>
<text x="732.2" y="230" font-size="10.192000000000002" textLength="18.5" lengthAdjust="spacingAndGlyphs">S12</text>
<text x="62.9" y="312.9" font-size="13.5" textLength="18.8" lengthAdjust="spacingAndGlyphs">(c)</text>
<path d="M63.5,499 C64.2,500.5 66,505.8 67.4,508 C68.8,510.2 70,512.1 71.9,512.5 C73.8,512.9 76.2,512.5 78.6,510.2 C81,507.9 83.3,503.5 86.5,499 C89.7,494.5 93.2,488.8 97.7,483.2 C102.2,477.6 107.9,470.6 113.5,465.2 C119.1,459.8 125.1,454.9 131.5,450.6 C137.9,446.3 146.2,442.2 151.7,439.4 C157.1,436.6 159,435.9 164.2,433.7 C169.3,431.5 177.8,427.8 182.6,426 C187.4,424.2 191.4,423.6 193.2,423.1" stroke="#008000" stroke-width="1.7" fill="none" stroke-linejoin="round" stroke-linecap="butt" stroke-dasharray="5.1 2.1"/>
<path d="M193.2,423.1 L191.1,418.2 L199.6,406.8 L209.5,394.1 L220.8,381.3 L232.2,370 L233.7,368.9 L231.8,366.9 L214.3,367.9 L195,371.6 L180.5,375.5 L167.4,379.5 L156.8,383.4 L134.5,382.1 L121.3,376.8 L108.2,371.6 L95,366.3 L91.7,364.6 L91.7,358.2 L88.5,351.9 L84.2,344.4 L81,345.5 L77.9,349.7 L74.7,344.4 L69.4,345.5 L64,342.3" stroke="#008000" stroke-width="1.7" fill="none" stroke-linejoin="round" stroke-linecap="butt" stroke-dasharray="5.1 2.1"/>
<path d="M89.5,480 C89.8,479.4 90.1,478.1 91,476.5 C91.9,474.9 93.5,472.3 95,470.5 C96.5,468.7 96.9,468.2 100,465.5 C103.1,462.8 108.2,458.2 113.5,454 C118.8,449.8 125.1,444.4 131.5,440.5 C137.9,436.6 146.2,432.7 151.7,430.4 C157.1,428.1 159.8,428.1 164.2,426.7 C168.6,425.2 173.9,423.1 178.3,421.7 C182.7,420.3 188.4,418.8 190.4,418.2" stroke="#ff0000" stroke-width="1.7" fill="none" stroke-linejoin="round" stroke-linecap="butt" stroke-dasharray="5.1 2.1"/>
<path d="M190.4,418.2 L190.4,413.9 L184,408.2 L188.2,401.2 L196.7,389.8 L200.3,381.3 L198.2,379.2 L184.5,380.8 L168.7,384.7 L158.2,388.7 L156.8,384.7 L139.7,386.7 L127.9,380.8 L114.7,374.2 L110.8,362.5 L108.2,352.5 L101.2,355 L92.7,358.2 L84.2,351.9 L80,346.5 L82.1,341.2 L81,330.6 L72.5,333.8" stroke="#ff0000" stroke-width="1.7" fill="none" stroke-linejoin="round" stroke-linecap="butt" stroke-dasharray="5.1 2.1"/>
<path d="M129.2,427 C130.3,426.2 132.5,424.9 136,422.5 C139.5,420.1 145.3,415.4 150,412.5 C154.7,409.6 160.2,407 164.2,405.4 C168.2,403.8 171.8,403.8 174.1,402.6 C176.4,401.4 177.6,399 178.3,398.3" stroke="#0000ff" stroke-width="1.7" fill="none" stroke-linejoin="round" stroke-linecap="butt" stroke-dasharray="5.1 2.1"/>
<path d="M178.3,398.3 L184,387 L189.7,377.1 L193.9,370 L206.5,355.2 L195,355.8 L173.9,365 L147.6,372.9 L134.5,378.2 L121.3,382.1 L134.5,375.5 L126.6,368.3 L114.7,367.6 L126.6,365 L135.8,350.5" stroke="#0000ff" stroke-width="1.7" fill="none" stroke-linejoin="round" stroke-linecap="butt" stroke-dasharray="5.1 2.1"/>
<path d="M134,377.5 L136.5,375 L139,374.5 L141,372.8 L144,372.5 L146.5,370.5 L149.5,368.4 L152,369.6 L154.5,368.8 L157,370.6 L160,370.2 L162.5,372 L165,372.3 L168,374 L171,374.5 L174,376 L178,377 L181,378.2 L184.5,379.2 L180,380.2 L170,380.3 L160,380.4 L150,380.2 L140,380 L134.5,379.5 Z" fill="#0000ff" fill-opacity="0.62" stroke="#0000ff" stroke-width="0.9" stroke-linejoin="round"/>
<path d="M139,377 l3,-1.2 M144,374.5 l3.5,-1 M150,372 l2.5,0.8 M147,377.5 l4,-0.6 M155,373.5 l3,0.6 M160,376.5 l3.5,-0.4 M166,377 l3,0.4 M157,378.6 l3,-0.3 M152,375.8 l2.5,-0.5" stroke="#fff" stroke-width="0.8" stroke-opacity="0.8"/>
<path d="M135,379.6 L184.5,379.4" stroke="#0000ff" stroke-width="1.5"/>
<path d="M68.5,505.7 C68.9,506.8 69.4,510.7 70.7,512.5 C72,514.3 74.5,516.3 76.4,516.5 C78.3,516.7 80.1,516.5 82,513.6 C83.9,510.7 85.7,504.4 87.6,499 C89.5,493.6 91,487 93.2,481 C95.5,475 97.7,469.4 101.1,463 C104.5,456.6 108.8,448.7 113.5,442.7 C118.2,436.7 123.6,431.3 129.2,427 C134.8,422.7 141.4,419.8 147.2,416.9 C153,414 159,412.1 164.2,409.7 C169.4,407.3 174.5,404.7 178.3,402.6 C182.1,400.5 183.7,398.8 186.8,396.9 C189.9,395 194.8,392.8 196.7,391.2 C198.6,389.6 197.9,387.7 198.2,387" stroke="#bf00bf" stroke-width="1.7" fill="none" stroke-linejoin="round" stroke-linecap="butt" stroke-dasharray="5.1 2.1"/>
<path d="M192.5,385.6 L199.6,378.5 L209.5,371.4 L227.9,361.1 L237.6,356.2 L222,355.2" stroke="#bf00bf" stroke-width="1.7" fill="none" stroke-linejoin="round" stroke-linecap="butt" stroke-dasharray="5.1 2.1"/>
<path d="M237.6,356.2 L251.2,358.1" stroke="#bf00bf" stroke-width="1.7" fill="none" stroke-linejoin="round" stroke-linecap="butt" stroke-dasharray="5.1 2.1"/>
<path d="M194.8,387.6 L197,385.9 L199.5,385.1 L202.5,385.4 L204.8,386.6 L208,387.3 L212,387.7 L218.8,388 L218.8,388.9 L212,389.2 L208,390 L204,390.7 L200,390.6 L196.5,389.7 Z" fill="#bf00bf" stroke="#bf00bf" stroke-width="0.8" stroke-linejoin="round"/>
<path d="M54.9,418.6 C55.7,419.9 58.1,424.6 59.7,426.4 C61.3,428.2 63,429.1 64.6,429.4 C66.2,429.7 67.7,429.4 69.5,428.4 C71.3,427.4 73,426.3 75.3,423.5 C77.6,420.7 80.6,415.4 83.1,411.8 C85.5,408.2 87.7,404.7 90,401.8 C92.3,398.9 94.7,396.9 97.1,394.7 C99.5,392.5 101.8,390.3 104.2,388.4 C106.6,386.5 108.9,384.9 111.2,383.4 C113.5,381.9 115.5,380.9 118.3,379.2 C121.1,377.4 124,374.9 128,372.9 C132,370.8 137.5,368.7 142.2,366.9 C146.9,365.1 152,363.4 156.3,361.9 C160.6,360.4 163.7,359.1 168,357.9 C172.3,356.7 177.5,355.8 182.2,354.7 C186.9,353.6 191.3,352.5 196.3,351.5 C201.3,350.5 207.1,349.5 212.1,348.6 C217.1,347.7 222.1,346.8 226.2,346.1 C230.3,345.5 233.9,345.6 236.9,344.7 C239.9,343.8 243,341.4 244.2,340.8" stroke="#008000" stroke-width="1.7" fill="none" stroke-linejoin="round" stroke-linecap="square"/>
<path d="M244.2,340.8 L249.5,342.9 L253,340 L256.8,331.8 L262,332 L267.4,332.9 L275.8,330.3 L283.2,328.7 L291.1,329.7 L289.5,321.8 L278.9,321.8 L270.5,319.7 L261.1,317.6" stroke="#008000" stroke-width="1.7" fill="none" stroke-linejoin="round" stroke-linecap="square"/>
<path d="M231.1,337.6 L246.3,336.6 L253.7,335.5" stroke="#008000" stroke-width="1.7" fill="none" stroke-linejoin="round" stroke-linecap="square"/>
<path d="M75.5,425 C76,424 77.2,421.9 78.5,419 C79.8,416.1 81.2,411.6 83.1,407.9 C85,404.2 87.7,400 90,396.9 C92.3,393.8 94.7,391.5 97.1,389.1 C99.5,386.7 101.8,384.6 104.2,382.7 C106.6,380.8 108.9,379 111.2,377.4 C113.5,375.8 115.5,374.4 118.3,372.8 C121.1,371.2 124,369.6 128,367.9 C132,366.1 137.5,364.1 142.2,362.3 C146.9,360.5 152,358.4 156.3,357 C160.6,355.6 163.7,355.1 168,354 C172.3,352.9 177.5,351.5 182.2,350.4 C186.9,349.3 192,348.1 196.3,347.3 C200.6,346.5 204.2,346.1 208,345.5 C211.8,344.9 215,344.6 219.2,344 C223.4,343.4 229.8,342.8 233.3,342.2 C236.8,341.6 238.8,341.2 240.4,340.4 C242.1,339.6 242.7,338.1 243.2,337.6" stroke="#ff0000" stroke-width="1.7" fill="none" stroke-linejoin="round" stroke-linecap="square"/>
<path d="M243.2,337.6 L249.5,335.5 L256.8,334.5 L262.1,330.3 L269.5,328.7 L277.9,327.1 L285.3,324 L291.6,320.8 L294.7,316.6 L292.6,313.9 L278.9,313.9 L270.5,313.4" stroke="#ff0000" stroke-width="1.7" fill="none" stroke-linejoin="round" stroke-linecap="square"/>
<path d="M243.2,337.6 L249.5,339.7 L253.7,344 L257.9,346.5 L259,342 L263.2,340.3" stroke="#ff0000" stroke-width="1.7" fill="none" stroke-linejoin="round" stroke-linecap="square"/>
<path d="M84.5,404 C85.4,402.4 87.9,398.2 90,394.7 C92.1,391.1 94.7,386 97.1,382.7 C99.5,379.4 101.8,377.3 104.2,374.9 C106.6,372.5 108.6,370.6 111.2,368.5 C113.8,366.4 116.8,364.1 119.6,362.2 C122.4,360.3 124.2,359 128,357 C131.8,355 137.5,352.2 142.2,350.2 C146.9,348.2 152,346.4 156.3,344.9 C160.6,343.3 163.7,342.2 168,340.9 C172.3,339.6 177.5,338.4 182.2,337.3 C186.9,336.2 192,335.3 196.3,334.5 C200.6,333.7 204.2,333.2 208,332.7 C211.8,332.2 215,332.1 219.2,331.6 C223.4,331.1 229,330.3 233.3,329.8 C237.6,329.3 240.2,328.9 245,328.4 C249.8,327.9 258.2,327.3 262.1,326.6 C266,325.9 266.8,325 268.4,324 C270,323 271.1,321.3 271.6,320.8" stroke="#0000ff" stroke-width="1.7" fill="none" stroke-linejoin="round" stroke-linecap="square"/>
<path d="M271.6,320.8 L262.1,319.7 L246.3,317.6 L243.7,317.1" stroke="#0000ff" stroke-width="1.7" fill="none" stroke-linejoin="round" stroke-linecap="square"/>
<path d="M243.7,317.1 L262.1,315.5 L283.2,315 L293.7,314.5 L300,316.6 L305.3,319.5 L313.2,315.5 L319.5,317.9 L329,317.1 L338.4,317.1 L342.4,315.5 L340,313.2 L335,311" stroke="#0000ff" stroke-width="1.7" fill="none" stroke-linejoin="round" stroke-linecap="square"/>
<path d="M310,314.7 L317.9,307.6 L323.4,307.3 L333.7,310" stroke="#0000ff" stroke-width="1.7" fill="none" stroke-linejoin="round" stroke-linecap="square"/>
<path d="M59.7,424.5 C60.4,425.5 62.1,429 63.6,430.3 C65.1,431.6 66.9,432.5 68.5,432.3 C70.1,432.1 71.6,431.5 73.4,429.4 C75.2,427.3 77.2,423.8 79.2,419.6 C81.2,415.4 83.3,408.4 85.1,404 C86.9,399.6 88,397.3 90,393.3 C92,389.3 94.7,383.7 97.1,379.9 C99.5,376.1 102.1,373.2 104.2,370.7 C106.3,368.2 107.3,367.1 109.8,365 C112.2,362.9 115.9,360.4 118.9,358.4 C121.9,356.4 124.1,355 128,353.1 C131.9,351.2 137.5,348.9 142.2,347 C146.9,345.1 152,343.1 156.3,341.4 C160.6,339.7 163.7,338.3 168,336.8 C172.3,335.3 177.5,333.9 182.2,332.4 C186.9,330.9 192.5,328.9 196.3,327.8 C200.1,326.7 201.2,326.6 205,325.9 C208.8,325.2 214.5,324.3 219.2,323.5 C223.9,322.7 230.3,322 233.3,321.3 C236.3,320.6 236.7,319.6 237.4,319.2" stroke="#bf00bf" stroke-width="1.7" fill="none" stroke-linejoin="round" stroke-linecap="square"/>
<path d="M237.4,319.2 L225,317 L214.3,315.3" stroke="#bf00bf" stroke-width="1.7" fill="none" stroke-linejoin="round" stroke-linecap="square"/>
<path d="M214.3,315.3 L227.9,313 L247.4,311.4 L260,311 L297.4,310 L329,309.5 L344.7,308.9 L354.2,308.9 L357.4,310 L355.8,302.1 L354.2,304.5 L351.1,306.8 L347.9,310 L346.3,314.7 L341.6,312.4 L335.3,310.8" stroke="#bf00bf" stroke-width="1.7" fill="none" stroke-linejoin="round" stroke-linecap="square"/>
<path d="M227.2,333.7 L235,341.5 M227.2,341.5 L235,333.7" stroke="#008000" stroke-width="1.55" fill="none"/>
<circle cx="248.9" cy="342.4" r="3.7" stroke="#008000" stroke-width="1.55" fill="none"/>
<rect x="282.4" y="321.8" width="7.5" height="7.5" stroke="#008000" stroke-width="1.55" fill="none"/>
<path d="M238.7,331.6 L246.5,339.4 M238.7,339.4 L246.5,331.6" stroke="#ff0000" stroke-width="1.55" fill="none"/>
<circle cx="263.3" cy="340.3" r="3.7" stroke="#ff0000" stroke-width="1.55" fill="none"/>
<rect x="291.6" y="313.4" width="7.5" height="7.5" stroke="#ff0000" stroke-width="1.55" fill="none"/>
<path d="M239.8,313.2 L247.6,321 M239.8,321 L247.6,313.2" stroke="#0000ff" stroke-width="1.55" fill="none"/>
<circle cx="271.8" cy="320.9" r="3.7" stroke="#0000ff" stroke-width="1.55" fill="none"/>
<rect x="329.6" y="305.9" width="7.5" height="7.5" stroke="#0000ff" stroke-width="1.55" fill="none"/>
<path d="M210.4,311.4 L218.2,319.2 M210.4,319.2 L218.2,311.4" stroke="#bf00bf" stroke-width="1.55" fill="none"/>
<circle cx="237.4" cy="319.2" r="3.7" stroke="#bf00bf" stroke-width="1.55" fill="none"/>
<rect x="345.4" y="301.9" width="7.5" height="7.5" stroke="#bf00bf" stroke-width="1.55" fill="none"/>
<path d="M198.3,470.7 H218.4" stroke="#008000" stroke-width="1.7"/>
<text x="225.2" y="474.2" font-size="10.192000000000002" textLength="44.1" lengthAdjust="spacingAndGlyphs">B1: star1</text>
<path d="M198.3,484.4 H218.4" stroke="#008000" stroke-width="1.7" stroke-dasharray="5.1 2.1"/>
<text x="225.2" y="487.9" font-size="10.192000000000002" textLength="44.1" lengthAdjust="spacingAndGlyphs">B1: star2</text>
<path d="M198.3,498.6 H218.4" stroke="#ff0000" stroke-width="1.7"/>
<text x="225.2" y="502.1" font-size="10.192000000000002" textLength="44.1" lengthAdjust="spacingAndGlyphs">B2: star1</text>
<path d="M198.3,513.1 H218.4" stroke="#ff0000" stroke-width="1.7" stroke-dasharray="5.1 2.1"/>
<text x="225.2" y="516.6" font-size="10.192000000000002" textLength="44.1" lengthAdjust="spacingAndGlyphs">B2: star2</text>
<path d="M289,470.7 H308.4" stroke="#0000ff" stroke-width="1.7"/>
<text x="315.9" y="474.2" font-size="10.192000000000002" textLength="44.1" lengthAdjust="spacingAndGlyphs">B3: star1</text>
<path d="M289,484.4 H308.4" stroke="#0000ff" stroke-width="1.7" stroke-dasharray="5.1 2.1"/>
<text x="315.9" y="487.9" font-size="10.192000000000002" textLength="44.1" lengthAdjust="spacingAndGlyphs">B3: star2</text>
<path d="M289,498.6 H308.4" stroke="#bf00bf" stroke-width="1.7"/>
<text x="315.9" y="502.1" font-size="10.192000000000002" textLength="44.1" lengthAdjust="spacingAndGlyphs">B4: star1</text>
<path d="M289,513.1 H308.4" stroke="#bf00bf" stroke-width="1.7" stroke-dasharray="5.1 2.1"/>
<text x="315.9" y="516.6" font-size="10.192000000000002" textLength="44.1" lengthAdjust="spacingAndGlyphs">B4: star2</text>
<text x="455.8" y="314.7" font-size="16.1" textLength="23.8" lengthAdjust="spacingAndGlyphs">(d)</text>
<path d="M570,384.1 C570.3,384.7 571,387 571.8,387.6 C572.5,388.2 573.5,388.5 574.5,387.6 C575.5,386.7 576.8,384.8 578,382.3 C579.2,379.8 580,376 581.5,372.6 C583,369.2 584.8,365.1 586.9,361.9 C589,358.6 590.9,355.9 593.9,353.1 C596.9,350.3 600.8,347.3 604.6,345.1 C608.5,342.9 612,341.6 617,339.8 C622,338 628.3,336.3 634.6,334.5 C640.9,332.7 650.3,330.4 655,329.2 C659.7,327.9 660.4,327.6 663,327 C665.6,326.4 669.6,325.6 670.9,325.3" stroke="#ff0000" stroke-width="1.7" fill="none" stroke-linejoin="round" stroke-linecap="square"/>
<path d="M670.9,325.3 L678.9,320.5 L684.5,318.9 L688.4,317.3 L689.4,310.1 L697.4,309.3 L697.4,316.5 L691,316.5" stroke="#ff0000" stroke-width="1.7" fill="none" stroke-linejoin="round" stroke-linecap="square"/>
<path d="M669.5,326 L672,332 L675.5,333 L678,330 L676,326.5 L672,326.5" stroke="#ff0000" stroke-width="1.7" fill="none" stroke-linejoin="round" stroke-linecap="square"/>
<rect x="689.9" y="308.9" width="7.5" height="7.5" stroke="#ff0000" stroke-width="1.55" fill="none"/>
<circle cx="674.3" cy="328.5" r="3.7" stroke="#ff0000" stroke-width="1.55" fill="none"/>
<path d="M667.1,323.4 L674.9,331.2 M667.1,331.2 L674.9,323.4" stroke="#ff0000" stroke-width="1.55" fill="none"/>
<path d="M573.5,438.1 C573.7,438.8 574.2,441.1 574.9,442.3 C575.6,443.5 576.7,445.4 577.7,445.4 C578.8,445.4 580.1,444.5 581.2,442.3 C582.3,440.1 582.9,436.4 584.1,432.4 C585.3,428.4 586.6,422.4 588.3,418.2 C589.9,413.9 591.6,410.2 594,406.9 C596.4,403.6 599.2,401.1 602.5,398.4 C605.8,395.7 609.8,393 613.8,390.6 C617.8,388.2 622.8,386.3 626.6,384.2 C630.4,382.1 634.8,379 636.4,378" stroke="#ff0000" stroke-width="1.7" fill="none" stroke-linejoin="round" stroke-linecap="butt" stroke-dasharray="5.1 2.1"/>
<path d="M636.4,378 L641.7,361.9 L643.5,354.9 L625.8,357.5 L617,359.3 L608.1,356.6 L599.2,352.2 L595.7,349.6 L595.7,337.2 L592.2,338 L585.1,338 L579.8,331.9 L581.5,321.2 L576.2,323" stroke="#ff0000" stroke-width="1.7" fill="none" stroke-linejoin="round" stroke-linecap="butt" stroke-dasharray="5.1 2.1"/>
<path d="M589,392.7 C588.8,390.5 587.5,383.8 587.7,379.6 C587.9,375.4 589.1,371.1 590.4,367.3 C591.7,363.5 593.3,359.9 595.7,356.6 C598.1,353.4 601.1,350.3 604.6,347.8 C608.1,345.3 612,343.7 617,341.6 C622,339.5 628.3,337.2 634.6,335.4 C640.9,333.6 649.6,332 655,330.8 C660.4,329.6 665,328.8 667,328.4" stroke="#000000" stroke-width="1.7" fill="none" stroke-linejoin="round" stroke-linecap="square"/>
<path d="M667,328.4 L670.9,331.6 L673.3,334 L675.7,331.6 L679,330 L682.1,329.6 L686,328.4 L686.8,326 L684.5,323.7 L683,322 L684.5,320.5 L685.7,317.3 L685.3,314.1 L682.1,312.9 L678.9,311.5 L679.5,310 L682,309.5" stroke="#000000" stroke-width="1.7" fill="none" stroke-linejoin="round" stroke-linecap="square"/>
<path d="M675.3,299.4 L681.3,302.2" stroke="#000000" stroke-width="1.7" fill="none" stroke-linejoin="round" stroke-linecap="square"/>
<path d="M667.7,320.5 L670,322.5 L672.5,320.5 L675,319.7" stroke="#000000" stroke-width="1.4" fill="none" stroke-linejoin="round" stroke-linecap="square"/>
<rect x="682" y="301.9" width="7.5" height="7.5" stroke="#000000" stroke-width="1.55" fill="none"/>
<path d="M593.3,449.4 C593.2,447.3 592.8,441.2 592.9,436.7 C593,432.2 593.1,427.2 594,422.5 C594.9,417.8 596.3,412.3 598.2,408.3 C600.1,404.3 602.2,401.5 605.3,398.4 C608.4,395.3 612.9,392.4 616.7,389.9 C620.5,387.4 624.8,385.2 628,383.5 C631.2,381.8 634.8,380.2 636.2,379.6" stroke="#000000" stroke-width="1.7" fill="none" stroke-linejoin="round" stroke-linecap="butt" stroke-dasharray="5.1 2.1"/>
<path d="M636.2,379.6 L629.3,382.3 L634.6,377 L625.8,376.1 L629.3,367.3 L631.1,357.5 L617,361.1 L608.1,358.4 L599.2,352.2 L602.8,351.3 L606.3,342.5 L608.1,337.2 L604.6,335.4 L597.5,333.6" stroke="#000000" stroke-width="1.7" fill="none" stroke-linejoin="round" stroke-linecap="butt" stroke-dasharray="5.1 2.1"/>
<path d="M442.5,348.8 C445.8,349.4 456.7,351 462.3,352.7 C467.9,354.4 471.8,357.1 476,359.2 C480.2,361.2 483.8,363.4 487.7,365 C491.6,366.6 496.1,368.1 499.3,368.9 C502.5,369.6 505,369.8 507.1,369.5 C509.2,369.2 510.7,368.9 512,367 C513.3,365.1 514.2,362.9 514.9,358.2 C515.5,353.5 515.7,341.9 515.9,338.7" stroke="#00bfbf" stroke-width="1.7" fill="none" stroke-linejoin="round" stroke-linecap="square"/>
<path d="M515.9,338.7 L514.9,335.8 L516.9,334.8 L518.4,325.1 L518.4,321.2 L520.8,317.9 L534.4,317.3 L555,316.8 L572.7,310.6 L586.9,307.1 L608.1,305.7 L640,305.4 L699,304.6 L700.6,307 L700.4,322.1 L699,322.9 L663,322.9" stroke="#00bfbf" stroke-width="1.7" fill="none" stroke-linejoin="round" stroke-linecap="square"/>
<path d="M663,322.9 L667,324.2 L678.9,325.3 L689.2,326.8 L698,329.2 L698.8,332.4 L695.6,337.2 L692.6,339.6 L694.2,342.8 L688,342 L683,344.4 L689.4,346 L691,347.6 L678.2,349.2 L663.9,355.6 L655,361.9 L652.7,363.5 L647,369.9 L644.1,379.6 L641,392.3" stroke="#00bfbf" stroke-width="1.7" fill="none" stroke-linejoin="round" stroke-linecap="square"/>
<rect x="495.6" y="364.9" width="7.5" height="7.5" stroke="#00bfbf" stroke-width="1.55" fill="none"/>
<path d="M657.1,318.7 L664.9,326.5 M657.1,326.5 L664.9,318.7" stroke="#00bfbf" stroke-width="1.55" fill="none"/>
<circle cx="692" cy="328" r="3.7" stroke="#00bfbf" stroke-width="1.55" fill="none"/>
<path d="M660.6,372.7 L664.2,371.3 L663.5,374.2 L667.7,372.4 L668.4,371 L674.8,370.3 L676.2,373.1 L675.5,370.8 L679.7,371.3" stroke="#00bfbf" stroke-width="1.6" fill="none" stroke-linejoin="round" stroke-linecap="butt" stroke-dasharray="5.1 2.1"/>
<path d="M677.6,368.9 L681.9,367.8 L688.2,365.7" stroke="#00bfbf" stroke-width="1.6" fill="none" stroke-linejoin="round" stroke-linecap="butt" stroke-dasharray="5.1 2.1"/>
<path d="M679.7,374.9 L684,376.3 L684.7,377.7 L687,376.3 L691.8,377 L689,379.5 L686.1,383.4 L684.7,386.9 L682.6,389 L685.4,391.2 L681,392.2 L676.9,393.3 L682.6,394.7 L686.1,395.4 L681.9,397.5 L676.9,399.3 L670,404.5 L663.2,409.8 L659.2,416.8 L652.1,426.7 L647.8,436.7 L645,448" stroke="#00bfbf" stroke-width="1.6" fill="none" stroke-linejoin="round" stroke-linecap="butt" stroke-dasharray="5.1 2.1"/>
<path d="M440.4,458.9 C443.9,459.9 455.5,462.6 461.7,465.2 C467.9,467.8 472.5,471.4 477.4,474.2 C482.3,477 486.8,479.8 490.9,482 C495,484.2 498.8,486.4 502.2,487.6 C505.6,488.8 508.8,489.4 511.2,489.4 C513.6,489.4 515.3,489.4 516.8,487.6 C518.3,485.8 519.3,483.9 520.1,478.7 C520.9,473.5 521.4,465.6 521.7,456.2 C522,446.8 522,431.9 521.9,422.5 C521.8,413.1 521.5,407.5 521.3,400 C521.1,392.5 520.4,383.5 520.6,377.7 C520.8,371.9 521.9,367.9 522.7,365 C523.5,362.1 524.7,360.5 525.6,360.1 C526.5,359.7 527.6,362.1 528,362.5" stroke="#bfbf00" stroke-width="1.7" fill="none" stroke-linejoin="round" stroke-linecap="square"/>
<path d="M528,362.5 C532.8,363.4 549.5,366.5 557,367.9 C564.5,369.3 567.1,369.7 572.7,370.8 C578.3,371.9 585.7,373.8 590.4,374.3 C595.1,374.8 597.8,374.9 601,374 C604.2,373.1 607.5,371.3 609.9,369 C612.3,366.7 613.4,364 615.2,360.2 C617,356.4 618.7,350.4 620.5,346 C622.3,341.6 624.2,336.2 625.8,333.6 C627.4,331 629,329.8 630.2,330.1 C631.4,330.4 631.9,331.6 632.9,335.4 C633.9,339.2 635.2,347.5 636.4,353.1 C637.6,358.7 639,364.6 640,369 C641,373.4 641.9,376.5 642.6,379.6 C643.3,382.7 644.5,385.2 644.1,387.5 C643.7,389.8 640.9,392.2 640.2,393.1" stroke="#bfbf00" stroke-width="1.7" fill="none" stroke-linejoin="round" stroke-linecap="square"/>
<rect x="498.4" y="483.9" width="7.5" height="7.5" stroke="#bfbf00" stroke-width="1.55" fill="none"/>
<path d="M524.1,358.7 L531.9,366.5 M524.1,366.5 L531.9,358.7" stroke="#bfbf00" stroke-width="1.55" fill="none"/>
<circle cx="593.6" cy="374.3" r="3.7" stroke="#bfbf00" stroke-width="1.55" fill="none"/>
<path d="M729.2,326.1 L753.1,326.9 L735.6,330.9 L711.7,334 L687.8,337.2 L663.9,341.2 L648.8,344.4 L663.9,347.6 L679.8,350.8 L671.9,355.6 L659.1,362 L649.6,368.3 L643.2,376.3 L641.4,392.7 L643.6,408.3 L646.4,425.3 L648.5,440.9 L647.8,448 L645,448.7 L649.2,453.7" stroke="#bfbf00" stroke-width="1.7" fill="none" stroke-linejoin="round" stroke-linecap="butt" stroke-dasharray="5.1 2.1"/>
<path d="M613.7,478.7 H631.6" stroke="#ff0000" stroke-width="1.7"/>
<text x="637.3" y="481.6" font-size="8.424" textLength="36.5" lengthAdjust="spacingAndGlyphs">B2: star1</text>
<path d="M613.7,491.3 H631.6" stroke="#ff0000" stroke-width="1.7" stroke-dasharray="5.1 2.1"/>
<text x="637.3" y="494.2" font-size="8.424" textLength="36.5" lengthAdjust="spacingAndGlyphs">B2: star2</text>
<path d="M613.7,503.3 H631.6" stroke="#000000" stroke-width="1.7"/>
<text x="637.3" y="506.2" font-size="8.424" textLength="36.5" lengthAdjust="spacingAndGlyphs">B5: star1</text>
<path d="M613.7,515.5 H631.6" stroke="#000000" stroke-width="1.7" stroke-dasharray="5.1 2.1"/>
<text x="637.3" y="518.4" font-size="8.424" textLength="36.5" lengthAdjust="spacingAndGlyphs">B5: star2</text>
<path d="M691,478.7 H708.4" stroke="#00bfbf" stroke-width="1.7"/>
<text x="714.1" y="481.6" font-size="8.424" textLength="36.5" lengthAdjust="spacingAndGlyphs">B6: star1</text>
<path d="M691,491.3 H708.4" stroke="#00bfbf" stroke-width="1.7" stroke-dasharray="5.1 2.1"/>
<text x="714.1" y="494.2" font-size="8.424" textLength="36.5" lengthAdjust="spacingAndGlyphs">B6: star2</text>
<path d="M691,503.3 H708.4" stroke="#bfbf00" stroke-width="1.7"/>
<text x="714.1" y="506.2" font-size="8.424" textLength="36.5" lengthAdjust="spacingAndGlyphs">B7: star1</text>
<path d="M691,515.5 H708.4" stroke="#bfbf00" stroke-width="1.7" stroke-dasharray="5.1 2.1"/>
<text x="714.1" y="518.4" font-size="8.424" textLength="36.5" lengthAdjust="spacingAndGlyphs">B7: star2</text>
</svg>
</body></html>
